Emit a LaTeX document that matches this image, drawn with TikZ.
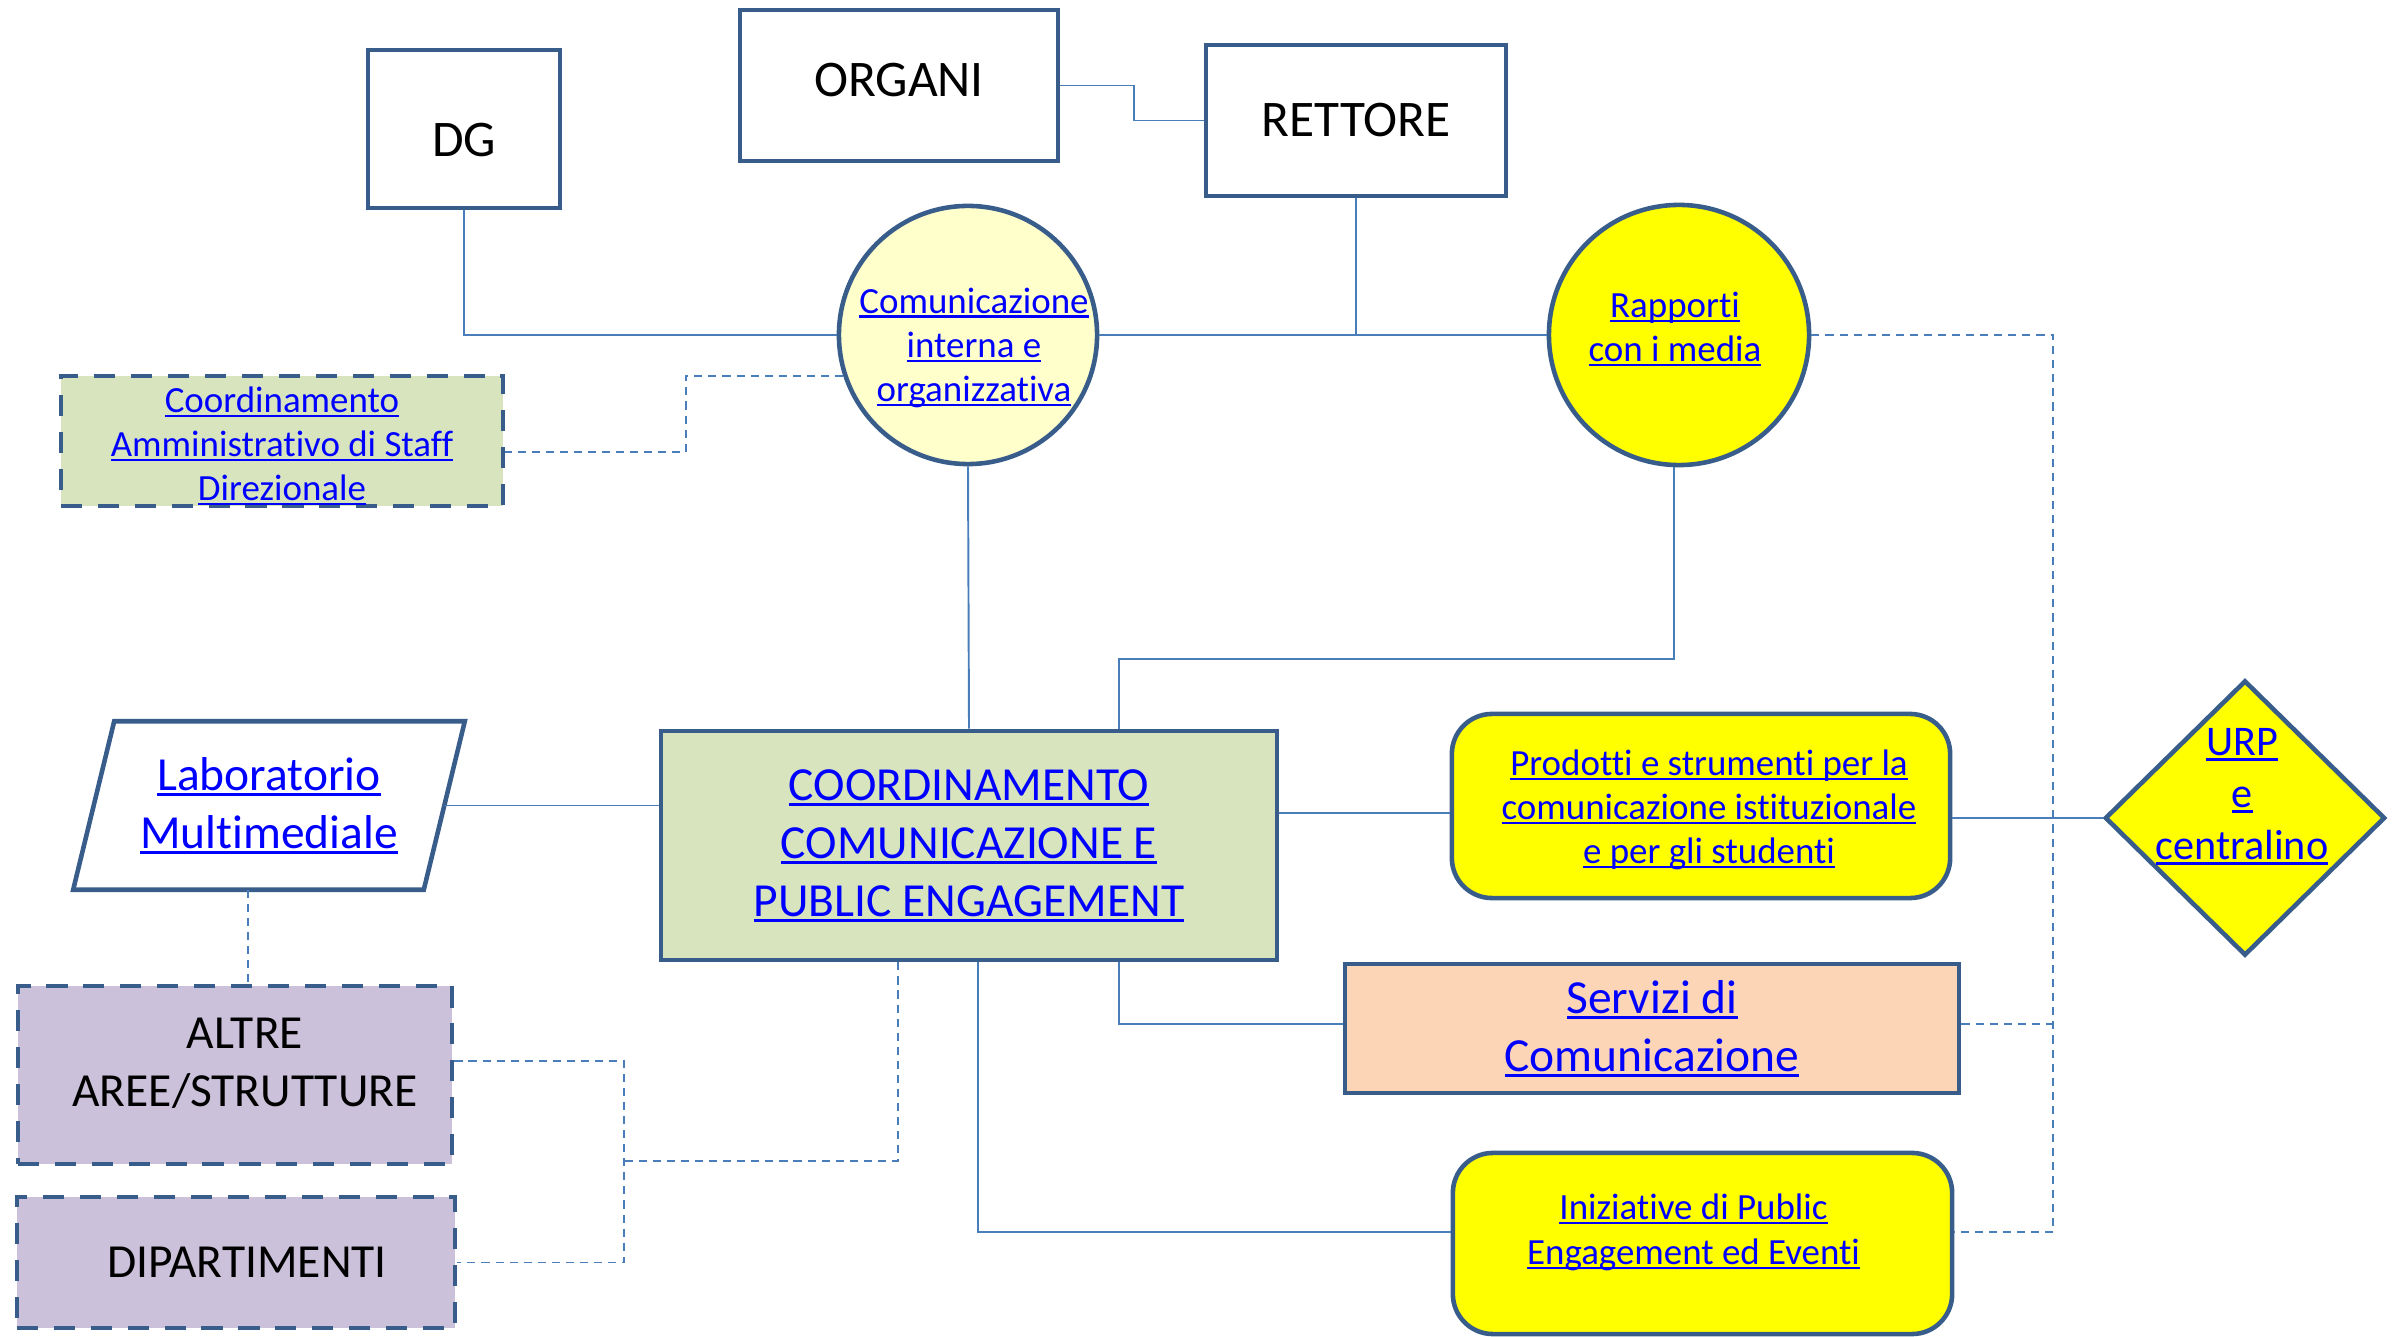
\documentclass[tikz,border=0pt]{standalone}
\usepackage{fontspec}
\setmainfont{Carlito}[Ligatures={TeX,NoCommon}]
\usetikzlibrary{shapes.geometric}
\definecolor{bordo}{RGB}{56,93,138}
\definecolor{linea}{RGB}{74,126,187}
\definecolor{verde}{RGB}{215,228,189}
\definecolor{giallino}{RGB}{255,255,204}
\definecolor{giallo}{RGB}{255,255,0}
\definecolor{viola}{RGB}{204,193,218}
\definecolor{pesca}{RGB}{251,213,181}
\definecolor{linkblue}{RGB}{0,0,255}
\newcommand{\lnk}[1]{\setbox0\hbox{#1}\rlap{\rule[-0.12em]{\wd0}{0.06em}}\box0}
\tikzset{
  box/.style={draw=bordo,line width=1.3pt,inner sep=0pt,align=center},
  dbox/.style={box,dash pattern=on 6pt off 4.5pt},
  link/.style={text=linkblue,align=center},
  conn/.style={draw=linea,line width=0.55pt},
  dashline/.style={conn,dash pattern=on 2.3pt off 1.7pt},
  fs/.style={font=\fontsize{10.5}{12.6}\selectfont},
  fm/.style={font=\fontsize{13.5}{16.5}\selectfont},
  fl/.style={font=\fontsize{14.6}{17.5}\selectfont},
  fu/.style={font=\fontsize{12}{14.8}\selectfont}
}
\begin{document}
\begin{tikzpicture}[x=0.01cm,y=-0.01cm]
\useasboundingbox (0,0) rectangle (2393,1337);
% vertici
\node[box,minimum width=1.92cm,minimum height=1.58cm,
  label={[fl,yshift=-0.11cm]center:DG}](dg) at (464,129){};
\node[box,minimum width=3.18cm,minimum height=1.51cm,
  label={[fl,yshift=0.05cm]center:ORGANI}](organi) at (899,85.5){};
\node[box,fl,minimum width=3.00cm,minimum height=1.51cm](rettore) at (1356,120.5){RETTORE};
\node[box,circle,fill=giallino,minimum size=2.58cm,
  label={[fs,link,xshift=0.06cm,yshift=-0.13cm]center:{\lnk{Comunicazione}\\\lnk{interna e}\\\lnk{organizzativa}}}](com) at (968,335){};
\node[box,circle,fill=giallo,minimum size=2.60cm,
  label={[fs,link,xshift=-0.04cm,yshift=0.06cm]center:{\lnk{Rapporti}\\\lnk{con i media}}}](media) at (1679,335){};
\node[dbox,fill=verde,minimum width=4.42cm,minimum height=1.30cm,
  label={[fs,link,yshift=-0.05cm]center:{\lnk{Coordinamento}\\\lnk{Amministrativo di Staff}\\\lnk{Direzionale}}}](staff) at (282,441){};
% centro
\node[box,fill=verde,fm,link,minimum width=6.16cm,minimum height=2.29cm](main) at (969,845.5)
  {\lnk{COORDINAMENTO}\\\lnk{COMUNICAZIONE E}\\\lnk{PUBLIC ENGAGEMENT}};
\node[fm,link,inner sep=0pt,minimum width=3.49cm,minimum height=1.67cm](lab) at (269,805.5)
  {\lnk{Laboratorio}\\\lnk{Multimediale}};
\draw[draw=bordo,line width=1.3pt]([xshift=0.205cm]lab.north west)--([xshift=0.205cm]lab.north east)
  --([xshift=-0.205cm]lab.south east)--([xshift=-0.205cm]lab.south west)--cycle;
\node[dbox,fill=viola,minimum width=4.34cm,minimum height=1.78cm,
  label={[fm,align=center,xshift=0.1cm,yshift=0.12cm]center:{ALTRE\\AREE/STRUTTURE}}](altre) at (235,1075){};
\node[dbox,fill=viola,minimum width=4.38cm,minimum height=1.31cm,
  label={[fm,xshift=0.11cm]center:DIPARTIMENTI}](dipart) at (236,1262.5){};
% destra
\node[box,rounded corners=0.4cm,fill=giallo,minimum width=4.98cm,minimum height=1.84cm,
  label={[fs,link,xshift=0.08cm,yshift=-0.04cm]center:{\lnk{Prodotti e strumenti per la}\\\lnk{comunicazione istituzionale}\\\lnk{e per gli studenti}}}](prodotti) at (1701,806){};
\node[box,diamond,fill=giallo,minimum width=2.80cm,minimum height=2.75cm,
  label={[fu,link,xshift=-0.03cm,yshift=0.215cm]center:{\lnk{URP}\\\lnk{e}\\\lnk{centralino}}}](urp) at (2245,818){};
\node[box,fill=pesca,fm,link,minimum width=6.14cm,minimum height=1.29cm](servizi) at (1652,1028.5)
  {\lnk{Servizi di}\\\lnk{Comunicazione}};
\node[box,rounded corners=0.4cm,fill=giallo,minimum width=4.99cm,minimum height=1.81cm,
  label={[fs,link,xshift=-0.09cm,yshift=0.11cm]center:{\lnk{Iniziative di Public}\\\lnk{Engagement ed Eventi}}}](iniz) at (1702.5,1243.5){};
% collegamenti
\draw[conn](organi.east)--++(74,0)|-(rettore.west);
\draw[conn](dg.south)|-(com.west);
\draw[conn](com.east)--(media.west);
\draw[conn](rettore.south)--(rettore.south|-com.east);
\draw[dashline](com.198)--++(-157,0)|-([yshift=-0.11cm]staff.east);
\draw[conn](com.south)--(main.north);
\draw[conn]([xshift=1.5cm]main.north)--++(0,-70)-|([xshift=-0.05cm]media.south);
\draw[conn](lab.east)--(lab.east-|main.west);
\draw[dashline]([xshift=-0.21cm]lab.south)--([xshift=-0.21cm]lab.south|-altre.north);
\draw[dashline]([yshift=0.14cm]altre.east)--++(170,0)|-(dipart.east);
\draw[dashline]([xshift=-0.71cm]main.south)--++(0,199)--++(-276,0);
\draw[conn]([yshift=-0.07cm]prodotti.west)--([yshift=-0.07cm]prodotti.west-|main.east);
\draw[conn](urp.west)--(urp.west-|prodotti.east);
\draw[conn]([xshift=1.5cm]main.south)|-([yshift=0.045cm]servizi.west);
\draw[conn]([xshift=0.09cm]main.south)|-([yshift=0.115cm]iniz.west);
\draw[dashline](media.east)--++(242,0)coordinate(bus)|-([yshift=0.115cm]iniz.east);
\draw[dashline]([yshift=0.045cm]servizi.east)--([yshift=0.045cm]servizi.east-|bus);
\end{tikzpicture}
\end{document}
